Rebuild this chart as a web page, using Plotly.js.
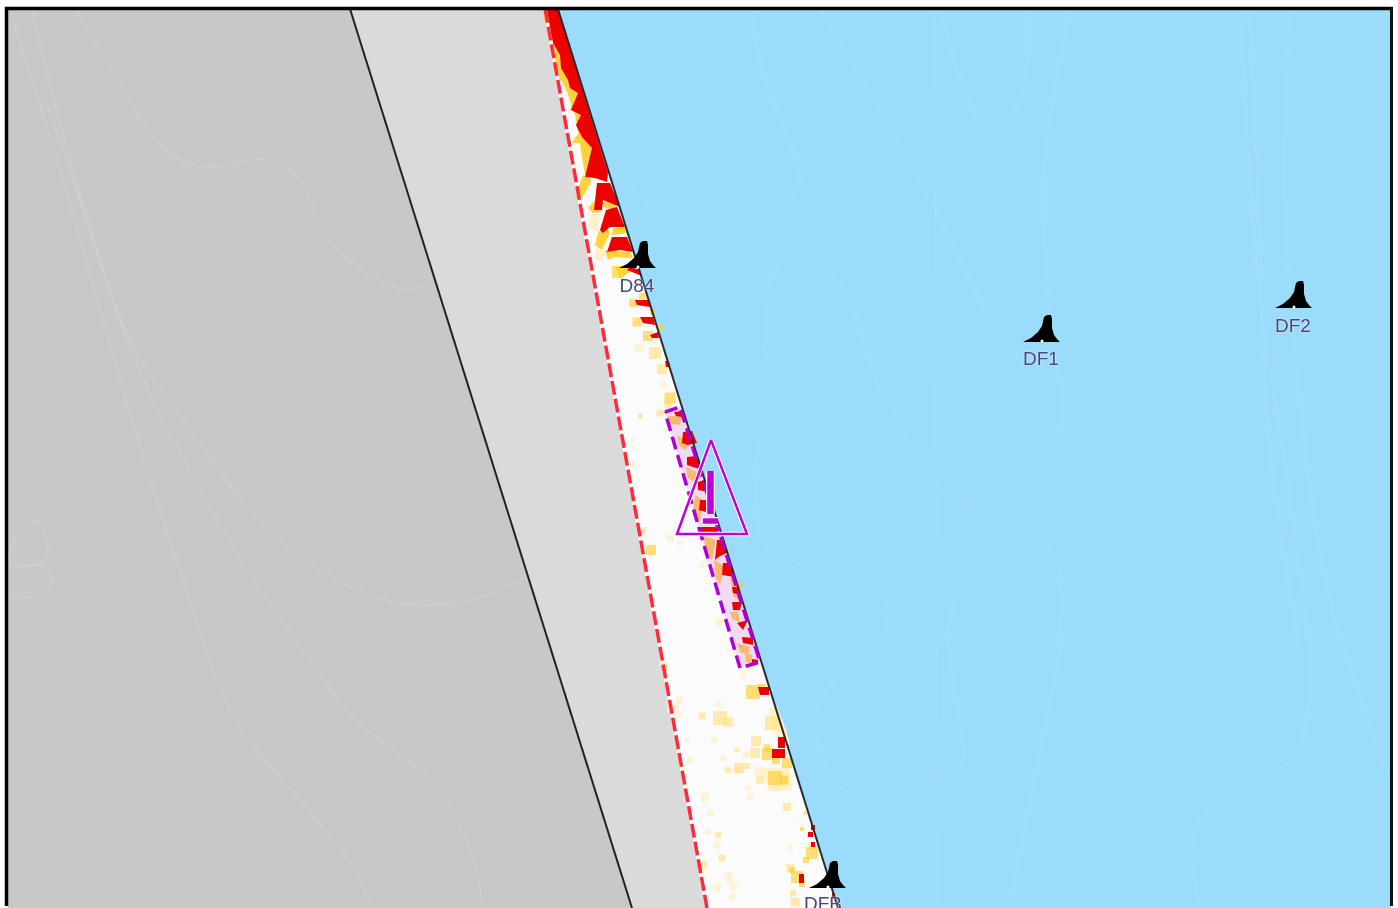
<!DOCTYPE html>
<html><head><meta charset="utf-8">
<script src="https://cdn.plot.ly/plotly-3.0.1.min.js"></script>
<style>html,body{margin:0;padding:0;background:#fff;overflow:hidden}#map{width:1398px;height:908px;filter:blur(0.7px)}</style>
</head><body><div id="map"></div>
<script>
// Regions [x list, y list]
const landDarkX=[8,350,632,8], landDarkY=[9,9,908,908];
const landLightX=[350,545,707,632], landLightY=[9,9,908,908];
const shoreX=[545,558,838,707], shoreY=[9,9,908,908];
const seaX=[558,1391,1391,838], seaY=[9,9,908,908];
const roadX=[350,632], roadY=[9,908];
const limitX=[545,707], limitY=[9,908];
const coastX=[558,838], coastY=[9,908];

// Faint contours on land
const landContours=[
 [[13,60,100,135,180,235,300,355,370],[20,170,310,430,570,720,800,870,908]],
 [[32,70,135,200,260,310,355,430,470,483],[10,160,360,490,590,660,720,780,850,908]],
 [[45,65,130,190,250,320,400,470,525],[100,155,340,430,510,570,603,600,578]],
 [[75,120,165,205,270,300,325,370,410,430],[10,85,150,167,160,180,235,275,290,280]],
 [[10,20,38,48,45,10],[565,530,522,550,560,565]],
 [[10,48,50,35,10],[567,568,585,596,596]]
];
// Faint contours at sea
const seaContours=[
 [[610,660,720,780,800,780,760,752],[170,210,228,205,180,120,60,10]],
 [[820,880,940,975,1000,1040],[10,110,220,290,340,365]],
 [[935,937],[10,908]],
 [[940,965,990,1020,1028],[10,90,135,100,10]],
 [[1070,1045,1050,1062,1040,980,940,890],[10,160,320,420,465,500,490,400]],
 [[765,775,800,845,860,880],[360,270,255,290,330,390]],
 [[760,765,830,880,885,820,820,850,890,930,960,950,990,1050,1060,1040,1010],[430,545,570,590,630,700,750,795,800,775,770,620,555,550,640,750,900]],
 [[1200,1195,1240,1290,1310,1290,1260,1240],[908,830,790,760,700,500,300,10]],
 [[1290,1285,1300,1330,1390],[10,200,400,600,780]],
 [[1250,1260,1270,1300],[10,250,450,650]]
];

// Heat patches
const palePatches=[
 [[590,600,598,588],[215,213,232,228]],
 [[596,606,600,594],[248,252,262,258]],
 [[769,777,786,790,780,770],[708,706,730,745,738,728]],
 [[760,790,792,770],[768,768,790,792]]
];
const yellowPatches=[
 [[545,552,560,568,575,585,600,556],[10,40,75,95,115,175,170,10]],
 [[543,548,552,553,558,560,568,580,573,570,573,565,560,553,555,550,550,545],[12,12,27,43,60,68,80,93,110,110,97,85,80,68,57,43,33,25]],
 [[580,583,585,572,575],[132,137,143,143,138]],
 [[583,592,585,580,575,580],[175,180,193,200,197,183]],
 [[595,602,593,588],[200,212,213,208]],
 [[605,610,602,595,598],[223,233,250,245,233]],
 [[605,630,633,615,608],[250,252,258,257,260]],
 [[615,627,630,620],[267,265,272,278]],
 [[602,615,615,605],[202,203,210,208]],
 [[613,625,627,612],[228,227,233,235]]
];
const redPatches=[
 [[545,558,608,607,595,585,592,582,576,581,571,578,570,568,561,560,553,548],[10,10,173,182,178,177,148,137,125,115,110,93,88,80,68,55,43,23]],
 [[597,610,620,603,602,594],[183,183,207,200,210,210]],
 [[606,617,625,610,603,600],[210,207,227,227,233,230]],
 [[612,627,633,620,607],[237,237,252,250,252]],
 [[630,640,642,627],[267,270,276,270]],
 [[635,648,650,637],[300,300,307,305]],
 [[640,653,655,643],[317,317,325,323]],
 [[650,658,659,652],[335,332,338,338]],
 [[665,669,670,666],[361,361,367,367]],
 [[674,683,682,676],[412,411,417,416]],
 [[683,692,697,688,682],[432,431,443,445,443]],
 [[687,697,701,696,687],[457,456,467,468,465]],
 [[698,704,708,698],[482,480,492,490]],
 [[700,707,709,699],[500,500,513,510]],
 [[697,720,718,700],[527,527,533,533]],
 [[717,723,727,720,715],[540,540,553,556,560]],
 [[723,730,735,722],[563,563,577,575]],
 [[732,737,740,733],[587,587,595,593]],
 [[732,742,740,733],[602,602,610,610]],
 [[737,748,743],[623,620,630]],
 [[742,753,753,743],[637,638,645,643]],
 [[752,758,758,752],[659,660,663,663]],
 [[758,769,769,760],[687,687,695,695]],
 [[772,785,785,772],[749,749,758,758]],
 [[778,785,785,778],[737,737,748,748]],
 [[808,813,813,808],[832,832,837,837]],
 [[811,815,815,811],[825,825,830,830]],
 [[811,815,815,811],[842,842,847,847]],
 [[799,804,804,799],[874,874,883,883]],
 [[832,835,835,832],[893,893,897,897]]
];
const orangePatches=[
 [[668,682,680,670],[416,416,425,424]],[[677,690,685,679],[435,443,450,445]],
 [[686,697,694,688],[467,472,482,478]],[[695,703,700,693],[495,500,522,515]],
 [[703,716,712,708],[536,540,560,556]],[[714,724,720,716],[560,566,585,578]],
 [[730,742,738,733],[578,584,600,596]],[[730,738,740,733],[612,612,622,620]],
 [[737,750,748,740],[643,647,655,652]],[[745,752,752,746],[652,655,664,662]]
];
// Square speckles, one list per strength, with their block sizes
const strongX=[753,768,787,775,802,812,797,805,618,633,637,648,670,651,664,762,776,767,784,806,802,792,653,660,642],
      strongY=[692,754,763,778,829,853,877,813,272,303,322,336,398,550,668,688,760,748,780,860,884,870,312,328,296],
      strongS=[14,12,10,14,4,12,12,3,12,8,9,10,11,10,6,8,8,7,8,6,6,6,6,6,6];
const midX=[772,756,755,783,739,728,720,702,737,718,722,703,787,793,795,655,662,660,640,643,728,738,747,760,812,790,668],
      midY=[723,741,753,780,768,770,718,716,750,835,858,865,807,893,902,353,369,413,416,530,722,770,766,780,846,868,405],
      midS=[14,10,10,12,10,6,14,7,5,6,7,8,8,6,9,12,10,7,5,6,10,7,6,8,7,8,7];
const paleX=[760,719,673,678,663,723,687,690,746,750,705,710,717,728,717,733,732,793,790,720,743,639,662,633,633,638,670,680,702,680,714,748,730,708],
      paleY=[772,704,707,715,662,758,740,760,755,797,797,813,845,875,887,887,897,823,847,622,675,348,385,440,465,522,538,543,565,700,740,788,880,832],
      paleS=[10,6,12,6,8,5,5,6,6,6,8,6,7,7,8,8,6,3,6,8,5,8,6,4,6,5,7,5,5,7,6,6,7,6];

// Notice area and warning triangle
const noticeX=[665,680,760,740,665], noticeY=[412,407,662,668,412];
const warnX=[711,677,747,711], warnY=[440,534,534,440];
const warnBarX=[710.5,710.5], warnBarY=[471,514];
const warnDashX=[703,718], warnDashY=[521,521];

// Buoys
const buoyNames=["D84","DF1","DF2","DFB"];
const buoyX=[638,1042,1294,828], buoyY=[267,341,307,887];
const labelX=[637,1041,1293,823], labelY=[287,360,327,905];
const bellDX=[-19,-11,-4,0,2,5,9,10,10,12,15,18,-19], bellDY=[1,-3,-9,-15,-24,-26,-26,-22,-13,-6,-2,1,1];

const t=[];
const poly=(x,y,c)=>t.push({x,y,mode:'none',type:'scatter',fill:'toself',fillcolor:c,hoverinfo:'skip',showlegend:false});
const line=(x,y,c,w,extra={})=>t.push({x,y,mode:'lines',type:'scatter',line:Object.assign({color:c,width:w},extra),hoverinfo:'skip',showlegend:false});

poly(landDarkX,landDarkY,'#c8c8c8');
poly(landLightX,landLightY,'#dadada');
poly(shoreX,shoreY,'#fbfbfb');
poly(seaX,seaY,'#9bdbfb');
landContours.forEach(c=>line(c[0],c[1],'#d1d1d1',1.1,{shape:'spline'}));
seaContours.forEach(c=>line(c[0],c[1],'#a6e0fa',1.1,{shape:'spline'}));
palePatches.forEach(p=>poly(p[0],p[1],'#fff0ca'));
[[paleX,paleY,paleS,'#fff0ca'],[midX,midY,midS,'#ffe28e'],[strongX,strongY,strongS,'#ffd23c']].forEach(s=>t.push({x:s[0],y:s[1],mode:'markers',type:'scatter',marker:{symbol:'square',size:s[2],color:s[3],line:{width:0}},hoverinfo:'skip',showlegend:false}));
yellowPatches.forEach(p=>poly(p[0],p[1],'#ffd23c'));
poly(noticeX,noticeY,'rgba(240,214,244,0.9)');
orangePatches.forEach(p=>poly(p[0],p[1],'#f9b870'));
redPatches.forEach(p=>poly(p[0],p[1],'#ee0000'));
line(limitX,limitY,'#fbfbfb',3.5);
line(limitX,limitY,'#ff2a3a',3.5,{dash:'14px,4px'});
line(roadX,roadY,'#222222',2);
line(coastX,coastY,'#2a2a2a',2);
line(noticeX,noticeY,'#b000d0',3.5,{dash:'13px,6px'});
line(warnX,warnY,'#ffffff',4.5);
line(warnX,warnY,'#c000d4',2.5);
line(warnBarX,warnBarY,'#ffffff',9);
line(warnBarX,warnBarY,'#c000d4',6.5);
line(warnDashX,warnDashY,'#ffffff',8);
line(warnDashX,warnDashY,'#c000d4',5.5);
buoyX.forEach((bx,i)=>{
  poly(bellDX.map(d=>bx+d),bellDY.map(d=>buoyY[i]+d),'#000000');
});
t.push({x:buoyX,y:buoyY,mode:'markers',type:'scatter',marker:{size:3,color:'#ffffff'},hoverinfo:'skip',showlegend:false});
t.push({x:labelX,y:labelY,mode:'text',type:'scatter',text:buoyNames,textposition:'middle center',cliponaxis:true,
  textfont:{family:'Liberation Sans, Arial, sans-serif',size:19,color:'#46467a',shadow:'0 0 2px #ffffff'},hoverinfo:'skip',showlegend:false});

const layout={width:1398,height:908,margin:{l:0,r:0,t:0,b:0},paper_bgcolor:'#ffffff',plot_bgcolor:'#ffffff',showlegend:false,
 xaxis:{range:[0,1398],visible:false,fixedrange:true},
 yaxis:{range:[908,0],visible:false,fixedrange:true},
 shapes:[
  {type:'line',xref:'x',yref:'y',x0:5,x1:1393,y0:8.5,y1:8.5,line:{color:'#000',width:3.5}},
  {type:'line',xref:'x',yref:'y',x0:6.5,x1:6.5,y0:7,y1:906,line:{color:'#000',width:3.5}},
  {type:'line',xref:'x',yref:'y',x0:1391.5,x1:1391.5,y0:7,y1:906,line:{color:'#111',width:3}}
 ]};
Plotly.newPlot('map',t,layout,{displayModeBar:false,staticPlot:true});
</script></body></html>
